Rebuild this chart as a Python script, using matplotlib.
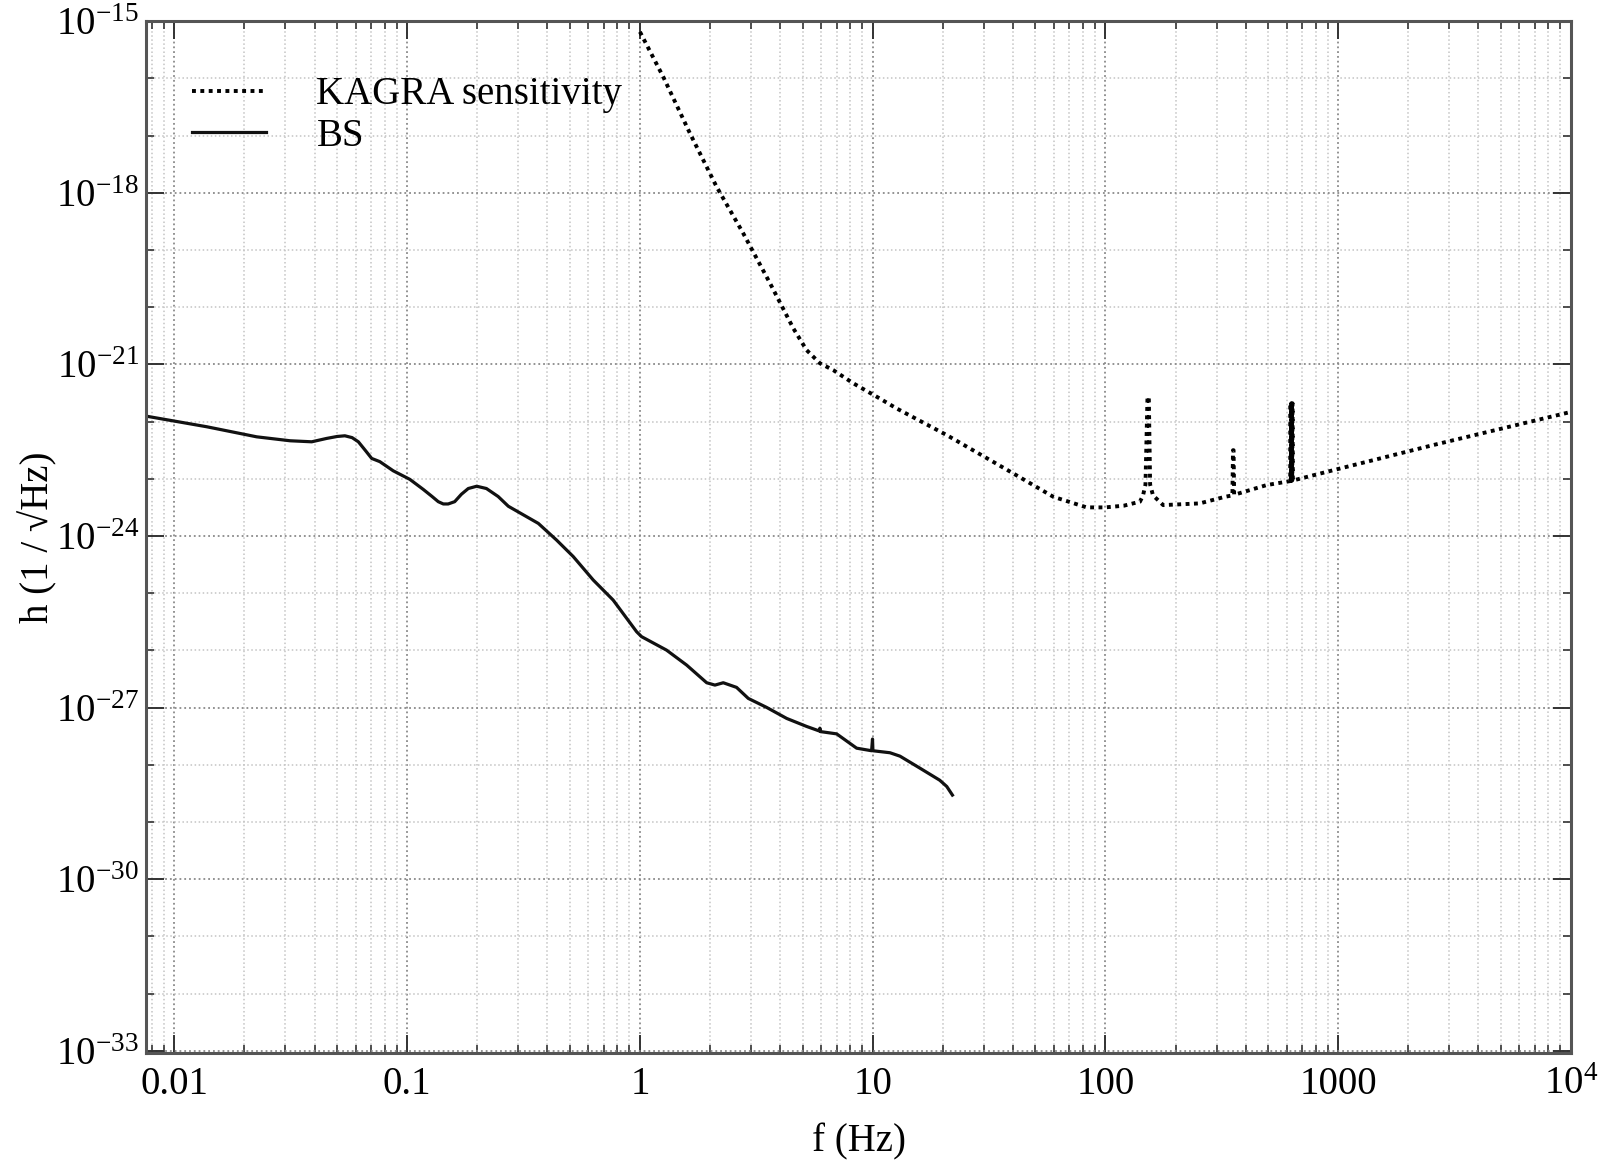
import numpy as np
import matplotlib
matplotlib.use('Agg')
import matplotlib.pyplot as plt
from matplotlib.ticker import FixedLocator, LogLocator, NullFormatter

# ---------------- data ----------------
kagra_freq = [1.0, 1.259, 1.64, 2.135, 2.78, 3.62, 4.56, 5.2, 5.93, 6.77, 8.25,
              10.7, 12.67, 20.8, 40.2, 59.7, 83.0, 99.6, 120.0, 140.6, 145.0, 148.5,
              151.5, 153.5, 155.5, 160.0, 177.0, 254.0, 326.0, 351.0, 353.0, 355.0,
              357.0, 492.0, 622.0, 624.0, 626.0, 628.0, 630.0, 632.0, 634.0, 636.0,
              638.0, 951.0, 2558.0, 10000.0]
kagra_log_h = [-15.185, -15.972, -16.96, -17.895, -18.71, -19.58, -20.37, -20.75, -20.98,
               -21.10, -21.33, -21.594, -21.77, -22.236, -22.907, -23.315, -23.50, -23.50,
               -23.47, -23.40, -23.29, -23.10, -21.57, -21.57, -23.10, -23.29, -23.46,
               -23.43, -23.315, -23.29, -22.50, -22.50, -23.28, -23.11, -23.04, -21.68,
               -23.04, -21.68, -23.035, -21.68, -23.03, -21.68, -23.03, -22.85, -22.41,
               -21.83]

bs_freq = [0.00755, 0.01377, 0.02256, 0.0314, 0.0389, 0.0451, 0.0500, 0.054, 0.0580,
           0.0617, 0.0660, 0.0704, 0.0763, 0.0871, 0.1027, 0.1172, 0.128, 0.136, 0.143,
           0.150, 0.160, 0.171, 0.183, 0.199, 0.219, 0.246, 0.272, 0.366, 0.438, 0.517,
           0.63, 0.767, 0.968, 1.016, 1.30, 1.587, 1.935, 2.10, 2.28, 2.60, 2.92, 3.50,
           4.27, 5.20, 5.90, 5.93, 5.96, 7.0, 8.53, 9.89, 9.98, 10.02, 11.86, 13.1, 15.96,
           19.4, 20.8, 22.0]
bs_log_h = [-21.904, -22.09, -22.266, -22.335, -22.353, -22.294, -22.26, -22.248, -22.28,
            -22.353, -22.50, -22.644, -22.70, -22.86, -23.01, -23.185, -23.31, -23.40,
            -23.44, -23.44, -23.40, -23.27, -23.17, -23.13, -23.17, -23.31, -23.48, -23.78,
            -24.07, -24.36, -24.77, -25.12, -25.675, -25.76, -25.995, -26.257, -26.566,
            -26.607, -26.566, -26.647, -26.84, -26.997, -27.19, -27.33, -27.41, -27.36,
            -27.42, -27.46, -27.71, -27.755, -27.55, -27.755, -27.79, -27.85, -28.06,
            -28.27, -28.38, -28.53]

series_labels = ['KAGRA sensitivity', 'BS']
x_tick_values = [0.01, 0.1, 1, 10, 100, 1000, 10000]
x_tick_labels = ['0.01', '0.1', '1', '10', '100', '1000', r'$10^{4}$']
y_tick_exponents = [-15, -18, -21, -24, -27, -30, -33]
y_minor_exponents = list(range(-33, -14))
x_label = 'f (Hz)'
y_label = 'h (1 / \u221aHz)'

# ---------------- style ----------------
plt.rcParams['font.family'] = ['Liberation Serif', 'DejaVu Serif']
plt.rcParams['mathtext.fontset'] = 'custom'
plt.rcParams['mathtext.rm'] = 'Liberation Serif'
plt.rcParams['mathtext.it'] = 'Liberation Serif:italic'
plt.rcParams['mathtext.bf'] = 'Liberation Serif:bold'
FS = 28

fig = plt.figure(figsize=(16, 11.6), dpi=100)
ax = fig.add_axes([0.09125, 0.09224, 0.89065, 0.88992])

ax.plot(kagra_freq, 10.0 ** np.array(kagra_log_h), color='black', lw=2.8,
        linestyle=(0, (1, 1.15)), label=series_labels[0])
ax.plot(bs_freq, 10.0 ** np.array(bs_log_h), color='#111111', lw=2.3,
        linestyle='-', label=series_labels[1])

ax.set_xscale('log')
ax.set_yscale('log')
ax.set_xlim(10 ** -2.122, 1e4)
ax.set_ylim(10 ** -33.04, 10 ** -14.99)

ax.set_xticks(x_tick_values)
ax.set_xticklabels(x_tick_labels)
ax.xaxis.set_minor_locator(LogLocator(base=10, subs=np.arange(2, 10), numticks=30))
ax.xaxis.set_minor_formatter(NullFormatter())

ax.set_yticks([10.0 ** e for e in y_tick_exponents])
ax.set_yticklabels([r'$10^{%d}$' % e for e in y_tick_exponents])
ax.yaxis.set_minor_locator(FixedLocator([10.0 ** e for e in y_minor_exponents]))
ax.yaxis.set_minor_formatter(NullFormatter())

ax.grid(True, which='major', linestyle=':', color='#8a8a8a', lw=1.3)
ax.grid(True, which='minor', linestyle=':', color='#c4c4c4', lw=1.1)
ax.set_axisbelow(True)

ax.tick_params(which='both', direction='in', top=True, right=True, colors='#333333',
               labelcolor='black', labelsize=FS)
ax.tick_params(which='major', length=13, width=1.4)
ax.tick_params(which='minor', length=6, width=1.2)
ax.tick_params(axis='x', which='major', pad=9)
ax.tick_params(axis='y', which='major', pad=5)

for sp in ax.spines.values():
    sp.set_linewidth(2.2)
    sp.set_color('#555555')

ax.set_xlabel(x_label, fontsize=FS, labelpad=15)
ax.set_ylabel(y_label, fontsize=FS, labelpad=-1)

ax.legend(loc='upper left', bbox_to_anchor=(0.0323, 0.946), frameon=False, fontsize=FS,
          handlelength=1.9, handletextpad=1.3, labelspacing=0.12, borderpad=0,
          borderaxespad=0)

fig.savefig('out.png', dpi=100)
